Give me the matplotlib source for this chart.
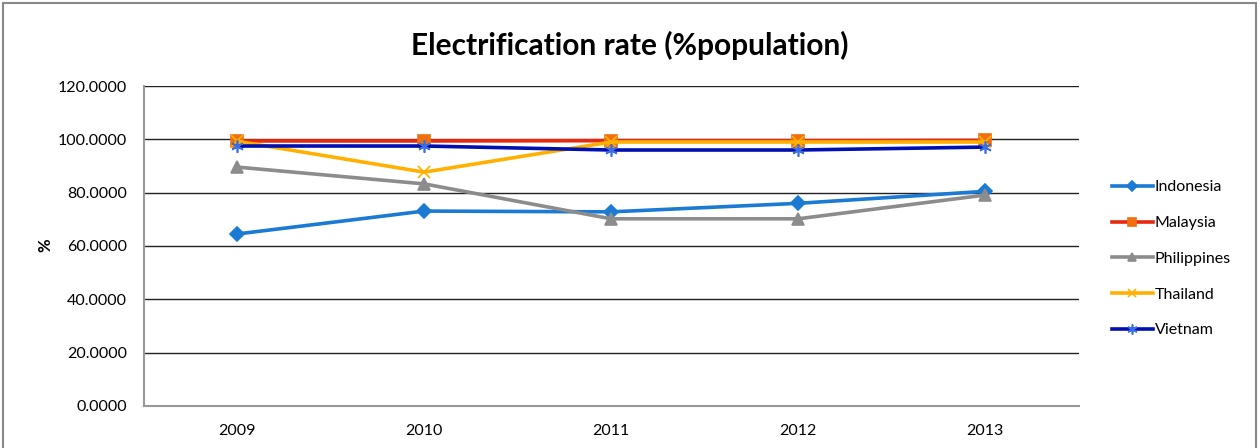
import matplotlib.pyplot as plt
from matplotlib.patches import Rectangle

plt.rcParams['font.family'] = ['Lato', 'DejaVu Sans']

# Electrification rate per country, % of population
years = ['2009', '2010', '2011', '2012', '2013']
indonesia = [64.5, 73.1, 72.8, 76.0, 80.5]
malaysia = [99.4, 99.4, 99.5, 99.5, 99.6]
philippines = [89.6, 83.3, 70.2, 70.2, 79.1]
thailand = [99.3, 87.7, 99.0, 99.0, 99.0]
vietnam = [97.5, 97.5, 96.0, 96.0, 97.1]

series = [
    ('Indonesia', indonesia, '#1a7ad4', 'D', '#1a7ad4', 7),
    ('Malaysia', malaysia, '#e8280f', 's', '#f07010', 8),
    ('Philippines', philippines, '#8c8c8c', '^', '#8c8c8c', 8),
    ('Thailand', thailand, '#ffb000', 'x', '#ffb000', 8),
    ('Vietnam', vietnam, '#0010b0', (6, 2, 0), '#3a6ee8', 9),
]

fig = plt.figure(figsize=(12.6, 4.48), dpi=100)
ax = fig.add_axes([0.1139, 0.0938, 0.7421, 0.7142])

x = range(len(years))
for name, vals, color, marker, mcolor, ms in series:
    ax.plot(x, vals, color=color, lw=2.6, marker=marker, markersize=ms,
            markerfacecolor=mcolor, markeredgecolor=mcolor, markeredgewidth=1.2,
            label=name, solid_joinstyle='round')

ax.set_xlim(-0.5, len(years) - 0.5)
ax.set_ylim(0, 120)
ax.set_yticks(range(0, 121, 20))
ax.set_yticklabels([f'{v:.4f}' for v in range(0, 121, 20)], fontsize=11.5)
ax.set_xticks(list(x))
ax.set_xticklabels(years, fontsize=11.5)
ax.tick_params(length=0)
ax.tick_params(axis='x', pad=13)
ax.tick_params(axis='y', pad=12)
ax.grid(axis='y', color='#222222', lw=1)
ax.set_axisbelow(True)
for side in ['top', 'right']:
    ax.spines[side].set_visible(False)
for side in ['left', 'bottom']:
    ax.spines[side].set_color('#999999')
    ax.spines[side].set_linewidth(1.5)

fig.text(45 / 1260, 1 - 245 / 448, '%', rotation=90, ha='center', va='center',
         fontsize=12, fontweight='bold')
fig.text(0.5, 1 - 45 / 448, 'Electrification rate (%population)', ha='center',
         va='center', fontsize=21.5, fontweight='bold')

ax.legend(loc='center left', bbox_to_anchor=(1.02, 0.46), frameon=False,
          fontsize=11.5, handlelength=2.6, handletextpad=0.1, labelspacing=1.35,
          markerscale=0.8)

# outer chart border
fig.patches.append(Rectangle((0.0025, -0.05), 0.994, 1.044, transform=fig.transFigure,
                             fill=False, edgecolor='#888888', lw=1.5))

fig.savefig('out.png', dpi=100)
